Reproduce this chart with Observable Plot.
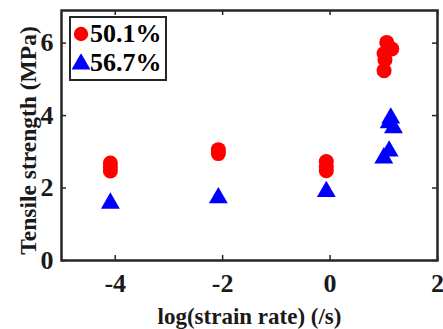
<!DOCTYPE html>
<html>
<head>
<meta charset="utf-8">
<script src="https://cdn.jsdelivr.net/npm/d3@7"></script>
<script src="https://cdn.jsdelivr.net/npm/@observablehq/plot@0.6"></script>
<style>
  html, body { margin: 0; padding: 0; background: #fff; }
  #wrap { position: relative; width: 443px; height: 329px; overflow: hidden; }
  #legend {
    position: absolute; left: 69px; top: 16px; width: 98px; height: 65px;
    box-sizing: border-box; border: 2.5px solid #262626; background: #fff;
    font-family: 'Liberation Serif', 'Times New Roman', serif; font-weight: bold;
    font-size: 26px; color: #000;
  }
  .row { position: absolute; left: 1px; display: flex; align-items: center; height: 28px; }
  .row svg { width: 18px; height: 18px; margin-right: 0px; }
</style>
</head>
<body>
<div id="wrap"><div id="legend"></div></div>
<script>
// ---- data ----
const seriesNames = ["50.1%", "56.7%"];
const seriesColors = ["#ff0000", "#0000ff"];
const xTicks = [-4, -2, 0, 2];
const yTicks = [0, 2, 4, 6];

// 50.1% (red circles)
const circX = [-4.09, -4.09, -4.09, -2.08, -2.08, -0.07, -0.07, -0.07, 1.055, 1.148, 1.005, 1.023, 1.005];
const circY = [2.69, 2.58, 2.47, 3.06, 2.95, 2.73, 2.6, 2.48, 6.02, 5.84, 5.71, 5.54, 5.24];
// 56.7% (blue triangles)
const triX = [-4.09, -2.08, -0.07, 1.13, 1.1, 1.18, 1.1, 1.0];
const triY = [1.58, 1.73, 1.9, 3.93, 3.8, 3.66, 3.02, 2.83];

const circ = circX.map((x, i) => ({x, y: circY[i]}));
const tri = triX.map((x, i) => ({x, y: triY[i]}));

const W = 443, H = 329;
const mL = 61, mR = 6, mT = 10, mB = 69;
const innerW = W - mL - mR, innerH = H - mT - mB;
const dark = "#262626";
const tickLen = 5;
const serif = "'Liberation Serif', 'Times New Roman', serif";

const chart = Plot.plot({
  width: W, height: H,
  marginLeft: mL, marginRight: mR, marginTop: mT, marginBottom: mB,
  x: {domain: [-5, 2]},
  y: {domain: [0, 6.9]},
  style: {fontFamily: serif, fontWeight: "bold", color: "#000", background: "#fff", overflow: "visible"},
  marks: [
    Plot.dot(circ, {x: "x", y: "y", r: 7.5, fill: seriesColors[0], stroke: "none"}),
    Plot.dot(tri, {x: "x", y: "y", r: 7, symbol: "triangle", fill: seriesColors[1], stroke: "none"}),
    Plot.tickX(xTicks, {x: d => d, insetTop: innerH - tickLen, stroke: dark, strokeWidth: 1.5}),
    Plot.tickX(xTicks, {x: d => d, insetBottom: innerH - tickLen, stroke: dark, strokeWidth: 1.5}),
    Plot.tickY(yTicks, {y: d => d, insetRight: innerW - tickLen, stroke: dark, strokeWidth: 1.5}),
    Plot.tickY(yTicks, {y: d => d, insetLeft: innerW - tickLen, stroke: dark, strokeWidth: 1.5}),
    Plot.axisX(xTicks, {tickSize: 0, tickPadding: 13, fontSize: 26, fill: "#1a1a1a", fontFamily: serif,
      tickFormat: d => String(d),
      label: null}),
    Plot.axisY(yTicks, {tickSize: 0, tickPadding: 8, fontSize: 26, fill: "#1a1a1a", fontFamily: serif,
      tickFormat: d => String(d),
      label: null}),
    Plot.text(["log(strain rate) (/s)"], {frameAnchor: "bottom", dy: 63, fontSize: 23, fill: "#1a1a1a", fontFamily: serif, lineAnchor: "bottom"}),
    Plot.text(["Tensile strength (MPa)"], {frameAnchor: "left", rotate: -90, dx: -33, dy: 5, fontSize: 23.5, fill: "#1a1a1a", fontFamily: serif, lineAnchor: "middle", textAnchor: "middle"}),
    Plot.frame({stroke: dark, strokeWidth: 2.5})
  ]
});
document.getElementById("wrap").prepend(chart);

// legend
const legend = document.getElementById("legend");
seriesNames.forEach((name, i) => {
  const row = document.createElement("div");
  row.className = "row";
  row.style.top = (i === 0 ? 2 : 31) + "px";
  const shape = i === 0
    ? `<svg viewBox="-9 -9 18 18"><circle r="7.2" fill="${seriesColors[i]}"/></svg>`
    : `<svg viewBox="-9 -9 18 18"><path d="${d3.symbol(d3.symbolTriangle, Math.PI * 49)()}" transform="translate(0,1)" fill="${seriesColors[i]}"/></svg>`;
  row.innerHTML = shape + `<span>${name}</span>`;
  legend.appendChild(row);
});
</script>
</body>
</html>
